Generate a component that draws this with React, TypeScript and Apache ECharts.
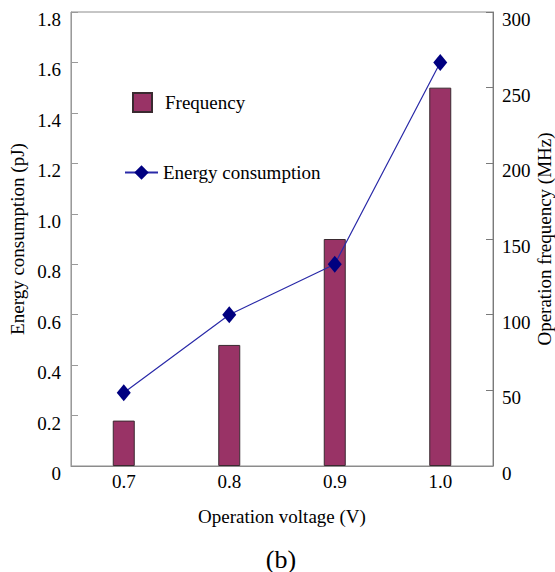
import React, { useEffect, useRef } from "react";
import * as echarts from "echarts";

const voltages = ["0.7", "0.8", "0.9", "1.0"];
const frequency = [30, 80, 150, 250];
const energy = [0.29, 0.6, 0.8, 1.6];

const FONT = "Liberation Serif";

const txt = (size: number) => ({ fontFamily: FONT, fontSize: size, color: "#000", fontWeight: "normal" as const });

export default function App() {
  const ref = useRef<HTMLDivElement>(null);
  useEffect(() => {
    if (!ref.current) return;
    const chart = echarts.init(ref.current, undefined, { renderer: "svg" });
    chart.setOption({
      animation: false,
      backgroundColor: "#ffffff",
      textStyle: { fontFamily: FONT, color: "#000" },
      grid: {
        left: 71,
        right: 62,
        top: 12,
        bottom: 106,
        containLabel: false,
        outerBoundsMode: "none",
        show: true,
        borderColor: "#8c8c8c",
        borderWidth: 1,
        backgroundColor: "transparent",
      },
      legend: [
        {
          data: ["Frequency"],
          left: 127,
          top: 87,
          icon: "rect",
          itemWidth: 19,
          itemHeight: 19,
          itemGap: 10,
          textStyle: { ...txt(19), padding: [0, 0, 0, 8] },
        },
        {
          data: ["Energy consumption"],
          left: 119,
          top: 158,
          itemWidth: 33,
          itemHeight: 18,
          textStyle: txt(19),
        },
      ],
      xAxis: {
        type: "category",
        data: voltages,
        z: 10,
        name: "Operation voltage (V)",
        nameLocation: "middle",
        nameGap: 41,
        nameMoveOverlap: false,
        nameTextStyle: txt(19),
        axisLine: { lineStyle: { color: "#8c8c8c", width: 1 } },
        axisTick: { inside: true, alignWithLabel: true, length: 8, lineStyle: { color: "#6e2848" } },
        axisLabel: { ...txt(19), margin: 6 },
      },
      yAxis: [
        {
          type: "value",
          min: 0,
          max: 1.8,
          interval: 0.2,
          position: "left",
          name: "Energy consumption (pJ)",
          nameLocation: "middle",
          nameRotate: 90,
          nameGap: 44,
          nameMoveOverlap: false,
          nameTextStyle: txt(19),
          axisLine: { show: true, lineStyle: { color: "#9a9a9a", width: 1 } },
          axisTick: { show: true, inside: true, length: 7, lineStyle: { color: "#9a9a9a" } },
          splitLine: { show: false },
          axisLabel: {
            ...txt(19),
            margin: 10,
            verticalAlign: "top",
            lineHeight: 15,
            formatter: (v: number) => (v === 0 ? "0" : v.toFixed(1)),
          },
        },
        {
          type: "value",
          min: 0,
          max: 300,
          interval: 50,
          position: "right",
          name: "Operation frequency (MHz)",
          nameLocation: "middle",
          nameRotate: 90,
          nameGap: 42,
          nameMoveOverlap: false,
          nameTextStyle: txt(19),
          axisLine: { show: true, lineStyle: { color: "#7a7a7a", width: 1 } },
          axisTick: { show: true, inside: true, length: 7, lineStyle: { color: "#7a7a7a" } },
          splitLine: { show: false },
          axisLabel: {
            ...txt(19),
            margin: 9,
            verticalAlign: "top",
            lineHeight: 15,
          },
        },
      ],
      series: [
        {
          name: "Frequency",
          type: "bar",
          yAxisIndex: 1,
          data: frequency,
          barWidth: 22,
          itemStyle: { color: "#993366", borderColor: "#3a2a30", borderWidth: 1 },
        },
        {
          name: "Energy consumption",
          type: "line",
          yAxisIndex: 0,
          data: energy,
          symbol: "diamond",
          symbolSize: [14, 17],
          lineStyle: { color: "#2a2aa8", width: 1.2 },
          itemStyle: { color: "#000080" },
          z: 5,
        },
      ],
      graphic: [
        {
          type: "text",
          x: 281,
          y: 559,
          style: {
            text: "(b)",
            fontFamily: FONT,
            fontSize: 26,
            fill: "#000",
            textAlign: "center",
            textVerticalAlign: "middle",
          },
        },
      ],
    });
    return () => chart.dispose();
  }, []);
  return <div ref={ref} style={{ width: 555, height: 572, position: "absolute", left: 0, top: 0 }} />;
}
